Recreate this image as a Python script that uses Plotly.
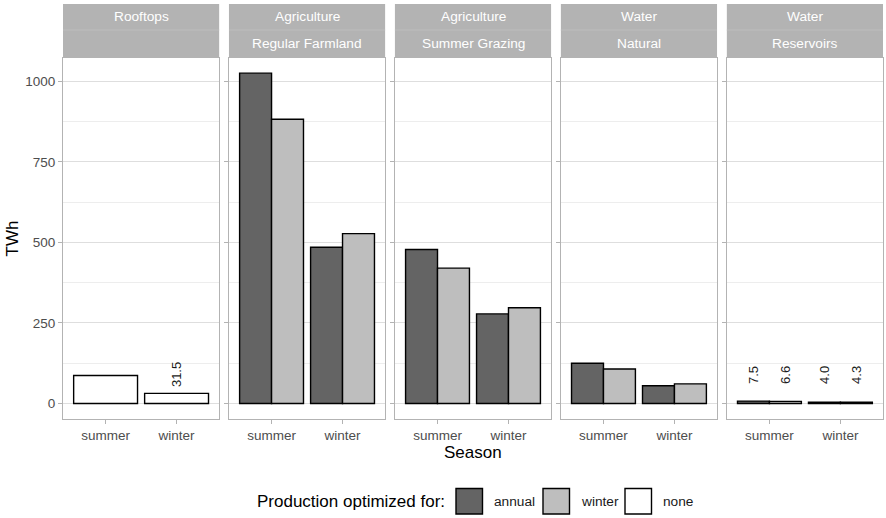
import plotly.graph_objects as go
from plotly.subplots import make_subplots

# ----- Data -----
seasons = ["summer", "winter"]
strip_top = ["Rooftops", "Agriculture", "Agriculture", "Water", "Water"]
strip_bottom = ["", "Regular Farmland", "Summer Grazing", "Natural", "Reservoirs"]

rooftops_none = [87, 31.5]
farmland_annual = [1025, 485]
farmland_winter = [882, 527]
grazing_annual = [478, 278]
grazing_winter = [420, 297]
natural_annual = [125, 55]
natural_winter = [107, 61]
reservoirs_annual = [7.5, 4.0]
reservoirs_winter = [6.6, 4.3]

# per panel: list of (optimized-for, values)
panels = [
    [("none", rooftops_none)],
    [("annual", farmland_annual), ("winter", farmland_winter)],
    [("annual", grazing_annual), ("winter", grazing_winter)],
    [("annual", natural_annual), ("winter", natural_winter)],
    [("annual", reservoirs_annual), ("winter", reservoirs_winter)],
]

y_ticks = [0, 250, 500, 750, 1000]
label_below = 50      # bars smaller than this get a value label
label_y = 90

colors = {"annual": "#646464", "winter": "#BEBEBE", "none": "#FFFFFF"}
legend_order = ["annual", "winter", "none"]

FONT = "Liberation Sans, Arial, sans-serif"
GREY70 = "#B3B3B3"

# ----- Figure -----
W, H = 886, 518
ML, MR, MT, MB = 63, 3, 58, 99
plot_w = W - ML - MR
plot_h = H - MT - MB

fig = make_subplots(rows=1, cols=5, shared_yaxes=True,
                    horizontal_spacing=9.8 / plot_w)

annotations = []
shapes = []

for i, traces in enumerate(panels, start=1):
    n = len(traces)
    for k, (opt, vals) in enumerate(traces):
        fig.add_trace(
            go.Bar(
                x=seasons, y=vals, name=opt,
                marker=dict(color=colors[opt], line=dict(color="black", width=1.4)),
                showlegend=False,
                hovertemplate=f"{opt}<br>%{{x}}: %{{y}} TWh<extra></extra>",
            ),
            row=1, col=i,
        )
        # small-value labels
        offset = 0 if n == 1 else (k - (n - 1) / 2) * 0.45
        for j, v in enumerate(vals):
            if v < label_below:
                annotations.append(dict(
                    x=j + offset, y=label_y, xref=f"x{i}", yref=f"y{i}",
                    text=f"{v:.1f}", textangle=-90, showarrow=False,
                    font=dict(family=FONT, size=13, color="#1A1A1A"),
                    xanchor="center", yanchor="middle",
                ))

    # facet strips
    xd = "x domain" if i == 1 else f"x{i} domain"
    shapes.append(dict(type="rect", xref=xd, yref="paper", x0=0, x1=1,
                       y0=1, y1=1 + 54 / plot_h, fillcolor=GREY70, line_width=0,
                       layer="below"))
    shapes.append(dict(type="line", xref=xd, yref="paper", x0=0, x1=1,
                       y0=1 + 28 / plot_h, y1=1 + 28 / plot_h,
                       line=dict(color="#BDBDBD", width=1)))
    for txt, ypx in ((strip_top[i - 1], 17), (strip_bottom[i - 1], 44)):
        if txt:
            annotations.append(dict(
                x=0.5, y=1 + (MT - ypx) / plot_h, xref=xd, yref="paper",
                text=txt, showarrow=False,
                font=dict(family=FONT, size=13.7, color="white"),
                xanchor="center", yanchor="middle",
            ))


def px_x(p):
    return (p - ML) / plot_w


def px_y(p):
    return (MT + plot_h - p) / plot_h


# axis titles
annotations.append(dict(x=0.5, y=px_y(452.7), xref="paper", yref="paper",
                        text="Season", showarrow=False,
                        font=dict(family=FONT, size=17, color="black"),
                        xanchor="center", yanchor="middle"))
annotations.append(dict(x=px_x(12), y=0.5, xref="paper", yref="paper",
                        text="TWh", textangle=-90, showarrow=False,
                        font=dict(family=FONT, size=17, color="black"),
                        xanchor="center", yanchor="middle"))

# legend drawn as keys + labels
annotations.append(dict(x=px_x(255), y=px_y(501), xref="paper", yref="paper",
                        text="Production optimized for:", showarrow=False,
                        font=dict(family=FONT, size=17, color="black"),
                        xanchor="left", yanchor="middle"))
key_x = [456, 543, 625]
for name, kx in zip(legend_order, key_x):
    shapes.append(dict(type="rect", xref="paper", yref="paper",
                       x0=px_x(kx), x1=px_x(kx + 26.5), y0=px_y(488.5), y1=px_y(514),
                       fillcolor=colors[name], line=dict(color="black", width=1.4)))
    annotations.append(dict(x=px_x(kx + 36), y=px_y(501), xref="paper", yref="paper",
                            text=name, showarrow=False,
                            font=dict(family=FONT, size=13.7, color="#1A1A1A"),
                            xanchor="left", yanchor="middle"))

fig.update_xaxes(
    type="category", categoryorder="array", categoryarray=seasons,
    range=[-0.6, 1.6], showgrid=False, zeroline=False,
    showline=True, mirror=True, linecolor=GREY70, linewidth=1,
    ticks="outside", ticklen=4, tickcolor=GREY70, tickwidth=1,
    tickfont=dict(family=FONT, size=13.5, color="#4D4D4D"),
)
fig.update_yaxes(
    range=[-48, 1072], tickvals=y_ticks, showgrid=True, gridcolor="#DEDEDE",
    gridwidth=1, zeroline=False,
    minor=dict(dtick=125, tick0=0, showgrid=True, gridcolor="#EDEDED", gridwidth=0.6),
    showline=True, mirror=True, linecolor=GREY70, linewidth=1,
    ticks="outside", ticklen=4, tickcolor=GREY70, tickwidth=1,
    tickfont=dict(family=FONT, size=13.5, color="#4D4D4D"),
)

fig.update_layout(
    width=W, height=H,
    margin=dict(l=ML, r=MR, t=MT, b=MB),
    barmode="group", bargap=0.1, bargroupgap=0,
    plot_bgcolor="white", paper_bgcolor="white",
    font=dict(family=FONT),
    annotations=annotations, shapes=shapes,
    showlegend=False,
)

# drop the default page margin so the figure sits at the window's corner
fig.write_html("out.html", config={"displayModeBar": False},
               post_script="document.body.style.margin = '0';")
